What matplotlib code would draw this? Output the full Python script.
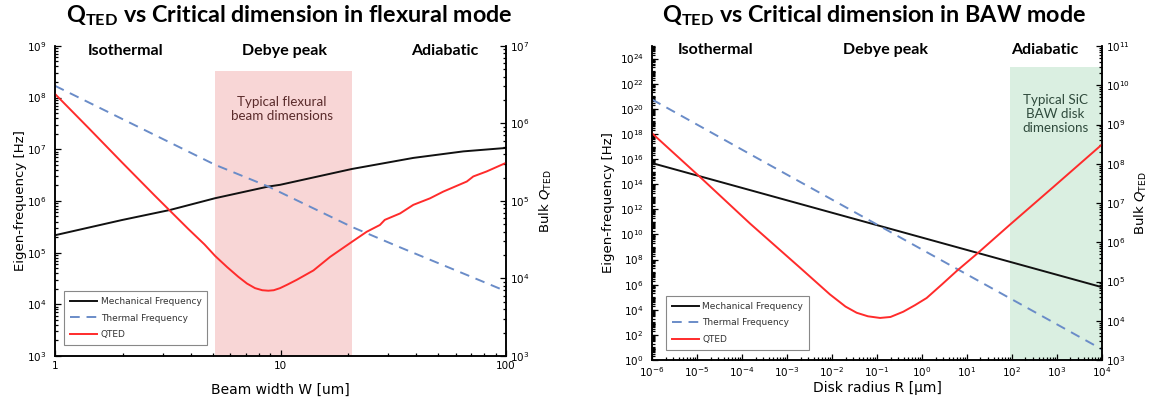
import numpy as np
import matplotlib
matplotlib.use("Agg")
import matplotlib.pyplot as plt
from matplotlib.ticker import LogLocator, NullFormatter, FixedLocator, FuncFormatter

# --- flexural mode data ---
flex_w_mech = [1, 1.98, 3.24, 5.13, 8.83, 9.95, 20.7, 38.8, 64.7, 100]
flex_f_mech = [2.17e5, 4.27e5, 6.7e5, 1.13e6, 1.9e6, 2.05e6, 4.15e6, 6.8e6, 9.1e6, 1.06e7]

flex_w_therm = [1, 5.13, 8.83, 20.7, 32.7, 67.0, 100]
flex_f_therm = [1.69e8, 5.0e6, 1.9e6, 3.15e5, 1.35e5, 3.7e4, 1.79e4]

flex_w_q = [1, 1.41, 1.98, 2.77, 3.90, 4.60, 5.13, 5.80, 6.50, 7.10, 7.71, 8.30,
            8.83, 9.33, 9.95, 10.7, 11.8, 14.0, 16.6, 20.7, 24.1, 27.6, 29.0,
            33.9, 38.8, 46.0, 52.7, 67.0, 71.6, 82.0, 100]
flex_q = [2.4e6, 8.7e5, 3.15e5, 1.17e5, 4.35e4, 2.75e4, 1.95e4, 1.4e4, 1.05e4,
          8.6e3, 7.5e3, 7.05e3, 6.95e3, 7.05e3, 7.5e3, 8.3e3, 9.6e3, 1.27e4,
          1.9e4, 2.96e4, 4.0e4, 4.9e4, 5.7e4, 6.9e4, 8.9e4, 1.08e5, 1.32e5,
          1.78e5, 2.07e5, 2.4e5, 3.1e5]

# --- BAW mode data ---
baw_r_mech = [1e-6, 1.5e-4, 0.117, 90, 1e4]
baw_f_mech = [4.8e15, 3.4e13, 4.7e10, 6.6e7, 6.3e5]

baw_r_therm = [1e-6, 1.5e-4, 0.117, 4.97, 90, 1e4]
baw_f_therm = [5.6e20, 2.5e16, 4.5e10, 2.6e7, 8.3e4, 7.1]

baw_r_q = [1e-6, 1.17e-5, 1.51e-4, 1.95e-3, 9.0e-3, 2.0e-2, 3.54e-2, 6.3e-2,
           0.117, 0.2, 0.384, 0.7, 1.27, 2.8, 5.9, 16.4, 90, 828, 1e4]
baw_q = [6.0e8, 4.6e7, 3.0e6, 2.25e5, 4.7e4, 2.3e4, 1.6e4, 1.3e4, 1.18e4,
         1.25e4, 1.7e4, 2.5e4, 3.8e4, 8.5e4, 1.85e5, 5.0e5, 2.8e6, 2.55e7, 3.1e8]

# tick decades
flex_x_ticks = [1, 10, 100]
flex_f_exp = range(3, 10)
flex_q_exp = range(3, 8)
baw_x_exp = range(-6, 5)
baw_f_exp = range(0, 25, 2)
baw_q_exp = range(3, 12)

BLACK = '#111111'
BLUE = '#6a8cc8'
RED = '#ff2b2b'

plt.rcParams['font.family'] = 'DejaVu Sans'

fig = plt.figure(figsize=(11.63, 4.08), dpi=100)


def decades(exps):
    return FixedLocator([10.0 ** k for k in exps])


def style_axes(ax, ax2):
    for a in (ax, ax2):
        a.spines['top'].set_visible(False)
        for s in ('left', 'right', 'bottom'):
            a.spines[s].set_linewidth(1.1)
        a.tick_params(which='both', direction='in', labelsize=7.5, width=0.9)
        a.tick_params(which='major', length=4.5)
        a.tick_params(which='minor', length=2.5)
        a.yaxis.set_minor_formatter(NullFormatter())
    ax.tick_params(axis='y', pad=6)
    ax2.tick_params(axis='y', pad=3)


def add_legend(ax, handles, anchor):
    leg = ax.legend(handles=handles, loc='lower left', bbox_to_anchor=anchor,
                    borderaxespad=0, fontsize=6.5, fancybox=False, framealpha=1,
                    edgecolor='#888888', handlelength=3.0, labelspacing=0.85,
                    borderpad=0.65, handletextpad=0.4)
    leg.get_frame().set_linewidth(0.8)
    for t in leg.get_texts():
        t.set_color('#333333')


# ================= left: flexural =================
ax = fig.add_axes([0.0473, 0.1275, 0.3878, 0.760])
ax2 = ax.twinx()
ax.axvspan(5.12, 20.7, ymax=0.92, color='#f8d6d6', lw=0, zorder=0)
l1, = ax.plot(flex_w_mech, flex_f_mech, color=BLACK, lw=1.4, label='Mechanical Frequency')
l2, = ax.plot(flex_w_therm, flex_f_therm, color=BLUE, lw=1.4, ls=(0, (5, 3.5)),
              label='Thermal Frequency')
l3, = ax2.plot(flex_w_q, flex_q, color=RED, lw=1.4, label='QTED')
ax.set_xscale('log')
ax.set_yscale('log')
ax2.set_yscale('log')
ax.set_xlim(1, 100)
ax.set_ylim(1e3, 1e9)
ax2.set_ylim(1e3, 1e7)
ax.xaxis.set_major_locator(FixedLocator(flex_x_ticks))
ax.xaxis.set_major_formatter(FuncFormatter(lambda v, p: '%g' % v))
ax.xaxis.set_minor_locator(LogLocator(base=10, subs=np.arange(2, 10)))
ax.xaxis.set_minor_formatter(NullFormatter())
ax.yaxis.set_major_locator(decades(flex_f_exp))
ax.yaxis.set_minor_locator(LogLocator(base=10, subs=np.arange(2, 10), numticks=20))
ax2.yaxis.set_major_locator(decades(flex_q_exp))
ax2.yaxis.set_minor_locator(LogLocator(base=10, subs=np.arange(2, 10), numticks=20))
style_axes(ax, ax2)
ax.set_xlabel('Beam width W [um]', fontsize=10)
ax.xaxis.set_label_coords(0.5, -0.087)
ax.set_ylabel('Eigen-frequency [Hz]', fontsize=9.5)
ax.yaxis.set_label_coords(-0.062, 0.5)
ax2.set_ylabel(r'Bulk $\mathit{Q}_{\mathregular{TED}}$', fontsize=9.5)
ax2.yaxis.set_label_coords(1.071, 0.5)
add_legend(ax2, [l1, l2, l3], (0.02, 0.035))

for txt, xp in [('Isothermal', 0.156), ('Debye peak', 0.508), ('Adiabatic', 0.865)]:
    ax.text(xp, 0.985, txt, transform=ax.transAxes, ha='center', va='center',
            fontsize=11.5, fontweight='bold', family='Lato')
ax.text(0.503, 0.797, 'Typical flexural\nbeam dimensions', transform=ax.transAxes,
        ha='center', va='center', fontsize=9.6, family='Lato', color='#5a2b2b',
        linespacing=1.2)

fig.text(0.249, 0.962, r'$\mathregular{Q_{TED}}$ vs Critical dimension in flexural mode',
         ha='center', va='center', fontsize=16.8, fontweight='bold', family='Lato')

# ================= right: BAW =================
bx = fig.add_axes([0.5606, 0.1176, 0.3869, 0.7696])
bx2 = bx.twinx()
bx.axvspan(90, 1e4, ymax=0.932, color='#daefe1', lw=0, zorder=0)
m1, = bx.plot(baw_r_mech, baw_f_mech, color=BLACK, lw=1.4, label='Mechanical Frequency')
m2, = bx.plot(baw_r_therm, baw_f_therm, color=BLUE, lw=1.4, ls=(0, (5, 3.5)),
              label='Thermal Frequency')
m3, = bx2.plot(baw_r_q, baw_q, color=RED, lw=1.4, label='QTED')
bx.set_xscale('log')
bx.set_yscale('log')
bx2.set_yscale('log')
bx.set_xlim(1e-6, 1e4)
bx.set_ylim(1, 1e25)
bx2.set_ylim(1e3, 1e11)
bx.xaxis.set_major_locator(decades(baw_x_exp))
bx.xaxis.set_minor_locator(LogLocator(base=10, subs=np.arange(2, 10), numticks=20))
bx.xaxis.set_minor_formatter(NullFormatter())
bx.yaxis.set_major_locator(decades(baw_f_exp))
bx.yaxis.set_minor_locator(LogLocator(base=10, subs=np.arange(1, 10), numticks=60))
bx2.yaxis.set_major_locator(decades(baw_q_exp))
bx2.yaxis.set_minor_locator(LogLocator(base=10, subs=np.arange(2, 10), numticks=20))
style_axes(bx, bx2)
bx.set_xlabel('Disk radius R [µm]', fontsize=10)
bx.xaxis.set_label_coords(0.5, -0.067)
bx.set_ylabel('Eigen-frequency [Hz]', fontsize=9.5)
bx.yaxis.set_label_coords(-0.082, 0.5)
bx2.set_ylabel(r'Bulk $\mathit{Q}_{\mathregular{TED}}$', fontsize=9.5)
bx2.yaxis.set_label_coords(1.069, 0.5)
add_legend(bx2, [m1, m2, m3], (0.031, 0.032))

for txt, xp in [('Isothermal', 0.142), ('Debye peak', 0.52), ('Adiabatic', 0.873)]:
    bx.text(xp, 0.987, txt, transform=bx.transAxes, ha='center', va='center',
            fontsize=11.5, fontweight='bold', family='Lato')
bx.text(0.896, 0.783, 'Typical SiC\nBAW disk\ndimensions', transform=bx.transAxes,
        ha='center', va='center', fontsize=9.6, family='Lato', color='#2f4a3c',
        linespacing=1.2)

fig.text(0.752, 0.962, r'$\mathregular{Q_{TED}}$ vs Critical dimension in BAW mode',
         ha='center', va='center', fontsize=16.8, fontweight='bold', family='Lato')

fig.savefig('out.png', dpi=100)
